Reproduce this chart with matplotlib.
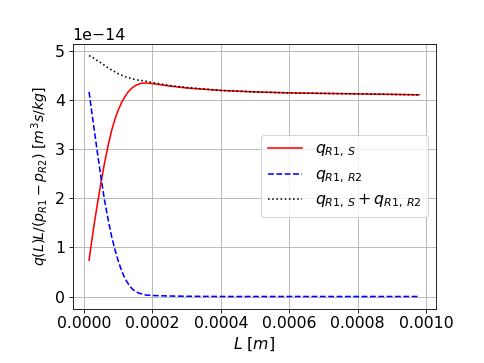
import numpy as np
import matplotlib
matplotlib.use('Agg')
import matplotlib.pyplot as plt

plt.rcParams['font.size'] = 15

# channel length [m]
L = np.array([0.0000146, 0.00002, 0.00003, 0.00004, 0.00005, 0.00006, 0.00007,
              0.00008, 0.00009, 0.0001, 0.00011, 0.00012, 0.00013, 0.00014,
              0.00015, 0.00016, 0.00017, 0.00018, 0.0002, 0.00025, 0.0003,
              0.0004, 0.0005, 0.0006, 0.0007, 0.0008, 0.0009, 0.00098])

# values in units of 1e-14 m^3 s/kg
q_s = np.array([0.74, 1.02, 1.50, 1.93, 2.35, 2.73, 3.07, 3.37, 3.61, 3.80,
                3.96, 4.08, 4.18, 4.25, 4.30, 4.33, 4.35, 4.35, 4.34, 4.29,
                4.25, 4.20, 4.17, 4.15, 4.14, 4.13, 4.12, 4.11])
q_r2 = np.array([4.17, 3.88, 3.38, 2.88, 2.40, 1.95, 1.58, 1.24, 0.96, 0.72,
                 0.52, 0.36, 0.25, 0.16, 0.10, 0.07, 0.05, 0.03, 0.02, 0.01,
                 0.005, 0.0, 0.0, 0.0, 0.0, 0.0, 0.0, 0.0])
q_sum = np.array([4.91, 4.89, 4.85, 4.80, 4.76, 4.71, 4.66, 4.62, 4.58, 4.54,
                  4.51, 4.48, 4.46, 4.44, 4.42, 4.41, 4.40, 4.39, 4.36, 4.30,
                  4.26, 4.20, 4.17, 4.15, 4.14, 4.13, 4.12, 4.11])

fig = plt.figure(figsize=(6.4, 4.8), dpi=484 / 6.4)
plt.subplots_adjust(left=0.15, bottom=0.15)

plt.plot(L, q_s * 1e-14, 'r-', label=r'$q_{R1,\,S}$')
plt.plot(L, q_r2 * 1e-14, 'b--', label=r'$q_{R1,\,R2}$')
plt.plot(L, q_sum * 1e-14, 'k:', label=r'$q_{R1,\,S}+q_{R1,\,R2}$')

plt.xlabel(r'$L$ $[m]$')
plt.ylabel(r'$q(L)L/(p_{R1}-p_{R2})$ $[m^3s/kg]$', fontsize=13.5)
plt.grid()
plt.legend(loc='center right', handlelength=2.2)

plt.savefig('out.png')
